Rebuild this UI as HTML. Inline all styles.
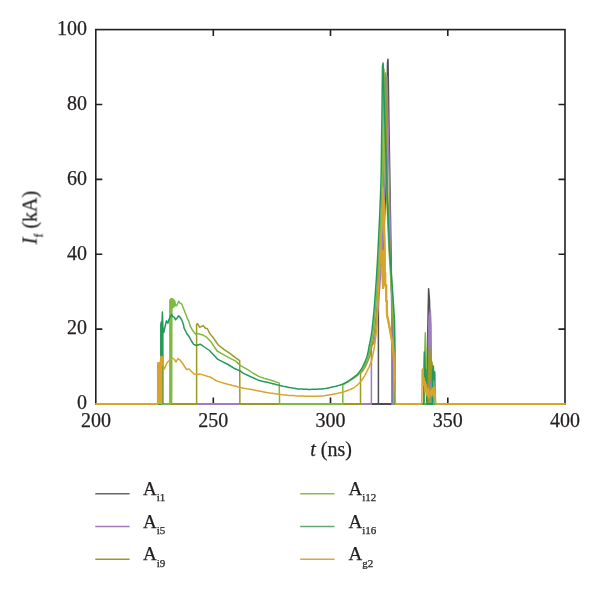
<!DOCTYPE html>
<html><head><meta charset="utf-8">
<style>
html,body{margin:0;padding:0;background:#fff;width:600px;height:591px;overflow:hidden}
svg{display:block}
text{font-family:"Liberation Serif",serif;fill:#231f20;stroke:#231f20;stroke-width:0.25px}
.t{opacity:0.999}
</style></head>
<body>
<svg width="600" height="591" viewBox="0 0 600 591">
<!-- frame -->
<g fill="none" stroke="#231f20" stroke-width="1.6">
<rect x="95.8" y="29.6" width="469.2" height="374.4"/>
<path d="M213.3 404v-6.5M330.5 404v-6.5M447.8 404v-6.5M213.3 29.6v6.5M330.5 29.6v6.5M447.8 29.6v6.5M95.8 329.1h6.5M95.8 254.2h6.5M95.8 179.4h6.5M95.8 104.5h6.5M565 329.1h-6.5M565 254.2h-6.5M565 179.4h-6.5M565 104.5h-6.5"/>
</g>
<g class="t">
<!-- y tick labels -->
<g font-size="20" text-anchor="end">
<text x="87" y="409.3">0</text>
<text x="87" y="334.4">20</text>
<text x="87" y="259.5">40</text>
<text x="87" y="184.6">60</text>
<text x="87" y="109.7">80</text>
<text x="87" y="34.8">100</text>
</g>
<!-- x tick labels -->
<g font-size="20" text-anchor="middle">
<text x="96" y="426.5">200</text>
<text x="213.3" y="426.5">250</text>
<text x="330.5" y="426.5">300</text>
<text x="447.8" y="426.5">350</text>
<text x="565" y="426.5">400</text>
</g>
<text x="331" y="456" font-size="20" text-anchor="middle"><tspan font-style="italic">t</tspan> (ns)</text>
<text transform="translate(36.5 217.5) rotate(-90)" font-size="20" text-anchor="middle"><tspan font-style="italic">I</tspan><tspan font-size="11.5" dy="6">f</tspan><tspan dy="-6"> (kA)</tspan></text>

</g>
<!-- DATA -->
<g id="data" fill="none" stroke-width="1.6" stroke-linejoin="round">
<path d="M96.0 404.0 L378.4 404.0 L378.4 268.0 L382.3 263.9 L382.6 258.0 L382.9 252.2 L383.2 246.2 L383.5 240.0 L383.9 232.1 L384.3 223.8 L384.7 215.3 L385.0 207.2 L385.3 200.0 L385.5 195.7 L385.6 191.8 L385.8 188.2 L385.9 184.3 L386.0 180.0 L386.2 172.9 L386.3 165.0 L386.4 156.7 L386.5 148.2 L386.6 140.0 L386.7 130.7 L386.9 120.2 L387.0 110.2 L387.1 102.9 L387.1 100.0 L387.5 63.0 L388.0 59.2 L389.2 140.0 L390.2 200.0 L391.0 250.0 L391.8 300.0 L392.2 330.0 L392.2 404.0 L427.5 404.0 L427.8 330.0 L428.6 288.8 L429.5 300.0 L430.2 340.0 L430.5 404.0 L565.0 404.0" stroke="#4f4f51" stroke-width="1.5"/><rect x="95.6" y="403" width="283.2" height="2" fill="#4f4f51"/><rect x="391.8" y="403" width="36.1" height="2" fill="#4f4f51"/><rect x="430.1" y="403" width="135.3" height="2" fill="#4f4f51"/>
<path d="M96.0 404.0 L371.4 404.0 L371.4 346.0 L373.6 343.5 L373.9 341.9 L374.3 340.2 L374.6 338.5 L374.9 336.9 L375.1 335.3 L375.4 333.7 L375.6 332.0 L375.9 330.0 L376.4 325.9 L376.9 321.2 L377.4 315.9 L377.9 310.5 L378.4 305.0 L378.9 298.3 L379.4 291.3 L379.9 284.1 L380.4 276.9 L380.8 270.0 L381.2 263.9 L381.5 258.0 L381.8 252.2 L382.1 246.2 L382.4 240.0 L382.8 232.1 L383.2 223.8 L383.6 215.3 L383.9 207.2 L384.2 200.0 L384.4 195.7 L384.5 191.8 L384.7 188.2 L384.8 184.3 L384.9 180.0 L385.1 172.9 L385.2 165.0 L385.3 156.7 L385.4 148.2 L385.5 140.0 L385.6 130.7 L385.8 120.2 L385.9 110.2 L386.0 102.9 L386.0 100.0 L386.2 80.0 L387.0 77.0 L388.3 140.0 L389.8 200.0 L390.5 250.0 L391.5 300.0 L392.0 330.0 L392.0 404.0 L428.2 404.0 L428.4 340.0 L429.3 318.0 L430.3 309.5 L431.0 325.0 L431.3 360.0 L431.5 404.0 L565.0 404.0" stroke="#a07cc0" stroke-width="1.5"/><rect x="95.6" y="403" width="276.2" height="2" fill="#a07cc0"/><rect x="391.6" y="403" width="37.0" height="2" fill="#a07cc0"/><rect x="431.1" y="403" width="134.3" height="2" fill="#a07cc0"/>
<path d="M428.3 404.0 L428.4 340.0 L429.3 318.0 L430.3 310.0 L431.0 325.0 L431.3 360.0 L431.5 404.0Z" fill="#a07cc0" stroke="none"/>
<path d="M96.0 404.0 L196.6 404.0 L196.6 324.5 L197.6 323.5 L199.7 327.3 L203.1 325.6 L205.7 328.5 L207.3 328.5 L209.9 333.6 L213.7 338.3 L218.3 345.0 L223.8 349.3 L230.6 353.9 L235.0 357.3 L239.7 360.7 L239.9 404.0 L360.5 404.0 L360.5 373.3 L362.4 371.3 L363.2 370.1 L364.0 368.9 L364.8 367.6 L365.5 366.3 L366.2 364.9 L366.8 363.5 L367.4 362.1 L368.0 360.8 L368.5 359.5 L369.0 358.2 L369.5 356.8 L369.9 355.4 L370.3 353.8 L370.7 352.1 L371.0 350.4 L371.3 348.6 L371.6 346.9 L371.9 345.2 L372.3 343.5 L372.6 341.9 L373.0 340.2 L373.3 338.5 L373.6 336.9 L373.8 335.3 L374.1 333.7 L374.3 332.0 L374.6 330.0 L375.1 325.9 L375.6 321.2 L376.1 315.9 L376.6 310.5 L377.1 305.0 L377.6 298.3 L378.1 291.3 L378.6 284.1 L379.1 276.9 L379.5 270.0 L379.9 263.9 L380.2 258.0 L380.5 252.2 L380.8 246.2 L381.1 240.0 L381.5 232.1 L381.9 223.8 L382.3 215.3 L382.6 207.2 L382.9 200.0 L383.1 195.7 L383.2 191.8 L383.4 188.2 L383.5 184.3 L383.6 180.0 L383.8 172.9 L383.9 165.0 L384.0 156.7 L384.1 148.2 L384.2 140.0 L384.3 130.7 L384.5 120.2 L384.6 110.2 L384.7 102.9 L384.7 100.0 L384.7 78.0 L385.5 73.0 L386.8 140.0 L388.0 200.0 L389.8 250.0 L392.0 300.0 L393.5 330.0 L394.0 350.0 L394.0 404.0 L428.3 404.0 L428.6 365.0 L429.5 346.2 L430.4 360.0 L430.6 380.0 L431.0 370.0 L432.0 362.0 L433.0 375.0 L433.3 404.0 L565.0 404.0" stroke="#9a9a24" stroke-width="1.5"/><rect x="95.6" y="403" width="101.4" height="2" fill="#9a9a24"/><rect x="239.5" y="403" width="121.4" height="2" fill="#9a9a24"/><rect x="393.6" y="403" width="35.1" height="2" fill="#9a9a24"/><rect x="432.9" y="403" width="132.5" height="2" fill="#9a9a24"/>
<path d="M96.0 404.0 L169.9 404.0 L169.9 300.0 L170.0 304.0 L170.8 299.0 L171.8 298.6 L172.6 304.0 L172.6 299.0 L174.6 300.8 L175.3 304.6 L176.7 305.6 L178.7 301.2 L180.0 303.2 L181.7 303.9 L183.4 308.3 L186.1 315.0 L187.5 319.0 L188.8 321.1 L190.2 326.1 L192.9 330.8 L195.9 334.5 L197.6 333.6 L202.7 334.9 L206.9 337.4 L211.2 342.1 L217.1 351.0 L223.8 354.8 L229.8 358.1 L235.7 361.1 L240.1 365.4 L247.7 369.6 L252.8 373.0 L258.7 376.4 L264.6 378.5 L271.4 380.2 L279.2 383.1 L279.6 404.0 L342.8 404.0 L342.8 384.6 L345.8 383.2 L347.3 382.4 L348.8 381.5 L350.3 380.5 L351.7 379.6 L353.1 378.7 L354.5 377.7 L355.9 376.7 L357.2 375.7 L358.4 374.6 L359.4 373.5 L360.3 372.4 L361.1 371.3 L361.9 370.1 L362.7 368.9 L363.5 367.6 L364.2 366.3 L364.9 364.9 L365.5 363.5 L366.1 362.1 L366.7 360.8 L367.2 359.5 L367.7 358.2 L368.2 356.8 L368.6 355.4 L369.0 353.8 L369.4 352.1 L369.7 350.4 L370.0 348.6 L370.3 346.9 L370.6 345.2 L371.0 343.5 L371.3 341.9 L371.7 340.2 L372.0 338.5 L372.3 336.9 L372.5 335.3 L372.8 333.7 L373.0 332.0 L373.3 330.0 L373.8 325.9 L374.3 321.2 L374.8 315.9 L375.3 310.5 L375.8 305.0 L376.3 298.3 L376.8 291.3 L377.3 284.1 L377.8 276.9 L378.2 270.0 L378.6 263.9 L378.9 258.0 L379.2 252.2 L379.5 246.2 L379.8 240.0 L380.2 232.1 L380.6 223.8 L381.0 215.3 L381.3 207.2 L381.6 200.0 L381.8 195.7 L381.9 191.8 L382.1 188.2 L382.2 184.3 L382.3 180.0 L382.5 172.9 L382.6 165.0 L382.7 156.7 L382.8 148.2 L382.9 140.0 L383.0 130.7 L383.2 120.2 L383.3 110.2 L383.4 102.9 L383.4 100.0 L383.4 72.0 L384.0 69.0 L385.0 140.0 L386.8 200.0 L389.0 250.0 L391.5 290.0 L393.5 320.0 L394.3 350.0 L394.3 404.0 L424.4 404.0 L424.6 360.0 L425.3 332.8 L426.0 350.0 L426.4 380.0 L427.0 392.0 L427.3 404.0 L431.0 404.0 L431.5 385.0 L432.0 404.0 L565.0 404.0" stroke="#80b941" stroke-width="1.5"/><rect x="95.6" y="403" width="74.7" height="2" fill="#80b941"/><rect x="279.2" y="403" width="64.0" height="2" fill="#80b941"/><rect x="393.9" y="403" width="30.9" height="2" fill="#80b941"/><rect x="426.9" y="403" width="4.5" height="2" fill="#80b941"/><rect x="431.6" y="403" width="133.8" height="2" fill="#80b941"/>
<path d="M169.9 404.0 L169.9 302.0 L170.5 298.6 L171.8 298.4 L173.5 299.2 L175.0 301.0 L176.2 305.0 L175.5 306.5 L174.0 307.5 L172.6 309.0 L172.4 404.0Z" fill="#80b941" stroke="none"/>
<path d="M96.0 404.0 L160.8 404.0 L160.8 325.0 L161.2 322.0 L161.9 325.0 L162.4 312.0 L162.9 328.0 L163.7 332.5 L165.2 326.0 L166.5 320.8 L167.9 323.2 L168.9 319.8 L170.2 316.7 L171.6 314.7 L172.9 316.7 L174.3 317.1 L175.6 319.8 L177.3 317.7 L178.7 315.7 L180.4 317.7 L181.7 319.8 L183.4 324.5 L184.1 328.1 L186.8 333.5 L188.8 336.2 L191.5 341.0 L193.6 344.4 L196.3 345.5 L200.2 344.2 L204.4 347.0 L209.5 350.5 L212.8 353.9 L217.9 359.4 L223.8 362.4 L228.1 364.5 L235.0 368.8 L240.1 370.9 L243.5 373.4 L251.9 377.2 L252.4 377.4 L253.7 378.0 L255.3 378.8 L257.1 379.6 L258.7 380.2 L259.9 380.6 L261.1 380.9 L262.2 381.2 L263.4 381.4 L264.6 381.7 L265.9 382.0 L267.3 382.3 L268.6 382.6 L270.0 383.0 L271.4 383.3 L272.9 383.7 L274.5 384.1 L276.0 384.5 L277.5 384.9 L279.0 385.3 L280.3 385.6 L281.5 385.9 L282.7 386.1 L283.8 386.4 L285.0 386.6 L286.0 386.8 L287.0 387.0 L288.0 387.2 L289.0 387.4 L290.0 387.6 L291.3 387.8 L292.6 388.1 L294.0 388.3 L295.5 388.5 L296.9 388.7 L298.5 388.9 L300.2 389.0 L302.0 389.1 L303.7 389.2 L305.4 389.3 L307.1 389.3 L308.8 389.4 L310.4 389.4 L312.1 389.3 L313.8 389.3 L315.5 389.3 L317.2 389.2 L318.9 389.1 L320.6 389.0 L322.3 388.9 L323.9 388.7 L325.5 388.5 L327.0 388.2 L328.5 387.9 L330.0 387.6 L331.2 387.3 L332.4 387.1 L333.6 386.8 L334.8 386.5 L336.0 386.2 L337.4 385.8 L338.8 385.4 L340.2 385.0 L341.6 384.5 L343.0 383.9 L344.5 383.2 L346.0 382.4 L347.5 381.5 L349.0 380.5 L350.4 379.6 L351.8 378.7 L353.2 377.7 L354.6 376.7 L355.9 375.7 L357.1 374.6 L358.1 373.5 L359.0 372.4 L359.8 371.3 L360.6 370.1 L361.4 368.9 L362.2 367.6 L362.9 366.3 L363.6 364.9 L364.2 363.5 L364.8 362.1 L365.4 360.8 L365.9 359.5 L366.4 358.2 L366.9 356.8 L367.3 355.4 L367.7 353.8 L368.1 352.1 L368.4 350.4 L368.7 348.6 L369.0 346.9 L369.3 345.2 L369.7 343.5 L370.0 341.9 L370.4 340.2 L370.7 338.5 L371.0 336.9 L371.2 335.3 L371.5 333.7 L371.7 332.0 L372.0 330.0 L372.5 325.9 L373.0 321.2 L373.5 315.9 L374.0 310.5 L374.5 305.0 L375.0 298.3 L375.5 291.3 L376.0 284.1 L376.5 276.9 L376.9 270.0 L377.3 263.9 L377.6 258.0 L377.9 252.2 L378.2 246.2 L378.5 240.0 L378.9 232.1 L379.3 223.8 L379.7 215.3 L380.0 207.2 L380.3 200.0 L380.5 195.7 L380.6 191.8 L380.8 188.2 L380.9 184.3 L381.0 180.0 L381.2 172.9 L381.3 165.0 L381.4 156.7 L381.5 148.2 L381.6 140.0 L381.7 130.7 L381.9 120.2 L382.0 110.2 L382.1 102.9 L382.1 100.0 L382.5 66.0 L383.1 63.0 L383.8 90.0 L385.5 140.0 L387.3 200.0 L389.5 250.0 L392.5 290.0 L394.5 320.0 L395.0 350.0 L395.0 404.0 L423.8 404.0 L423.9 375.0 L424.3 352.0 L424.9 362.0 L425.3 380.0 L426.0 370.0 L426.6 395.0 L427.0 404.0 L432.3 404.0 L432.6 372.0 L433.3 366.0 L434.2 380.0 L434.8 372.0 L435.2 404.0 L565.0 404.0" stroke="#23995b" stroke-width="1.5"/><rect x="95.6" y="403" width="65.6" height="2" fill="#23995b"/><rect x="394.6" y="403" width="29.6" height="2" fill="#23995b"/><rect x="426.6" y="403" width="6.1" height="2" fill="#23995b"/><rect x="434.8" y="403" width="130.6" height="2" fill="#23995b"/>
<path d="M160.6 404.0 L160.6 325.0 L161.2 323.0 L162.4 324.0 L163.6 329.0 L163.6 404.0Z" fill="#23995b" stroke="none"/>
<path d="M96.0 404.0 L157.7 404.0 L157.7 363.0 L160.3 362.5 L161.0 356.2 L162.2 357.0 L162.5 363.7 L164.5 369.0 L166.0 365.0 L167.5 362.0 L170.0 360.0 L172.5 358.0 L174.5 359.5 L176.0 362.0 L178.0 358.5 L180.0 360.0 L183.0 364.0 L186.5 369.5 L189.0 369.0 L194.0 374.0 L197.0 374.5 L200.0 374.0 L200.4 374.1 L201.3 374.4 L202.5 374.7 L203.8 375.1 L205.0 375.5 L206.2 375.9 L207.4 376.2 L208.6 376.6 L209.8 377.0 L211.0 377.5 L212.1 378.1 L213.1 378.7 L214.1 379.3 L215.0 380.0 L216.0 380.5 L216.8 380.9 L217.6 381.2 L218.3 381.4 L219.1 381.7 L220.0 382.0 L221.3 382.4 L222.6 382.8 L224.1 383.2 L225.5 383.6 L227.0 384.0 L228.6 384.4 L230.1 384.8 L231.8 385.3 L233.4 385.7 L235.0 386.1 L236.7 386.5 L238.4 387.0 L240.1 387.4 L241.8 387.8 L243.5 388.2 L245.2 388.5 L246.8 388.8 L248.5 389.0 L250.2 389.3 L251.9 389.6 L253.9 390.0 L255.9 390.4 L258.0 390.8 L260.0 391.2 L262.0 391.6 L263.6 391.9 L265.2 392.2 L266.8 392.5 L268.4 392.7 L270.0 393.0 L271.9 393.3 L273.9 393.6 L275.9 393.9 L277.9 394.1 L280.0 394.4 L282.4 394.7 L285.0 394.9 L287.5 395.2 L290.1 395.4 L292.7 395.6 L295.2 395.8 L297.8 395.9 L300.3 396.0 L302.9 396.1 L305.4 396.2 L308.0 396.3 L310.7 396.3 L313.3 396.3 L315.8 396.3 L318.1 396.2 L319.6 396.1 L321.1 396.0 L322.4 395.9 L323.7 395.8 L325.0 395.6 L326.0 395.4 L327.0 395.3 L327.9 395.1 L328.9 394.9 L330.0 394.7 L331.8 394.4 L333.8 394.1 L335.8 393.7 L338.0 393.3 L340.0 392.8 L342.1 392.3 L344.1 391.7 L346.2 391.0 L348.2 390.3 L350.0 389.6 L351.3 389.0 L352.6 388.4 L353.7 387.8 L354.9 387.0 L356.0 386.2 L357.3 385.1 L358.6 383.8 L359.9 382.4 L361.1 381.0 L362.2 379.5 L363.3 377.8 L364.4 376.1 L365.4 374.3 L366.4 372.4 L367.3 370.6 L368.1 368.9 L369.0 367.3 L369.7 365.6 L370.4 363.9 L371.1 362.1 L371.7 360.0 L372.3 357.8 L372.8 355.5 L373.2 353.3 L373.6 351.2 L373.9 349.5 L374.2 347.8 L374.5 346.2 L374.7 344.5 L375.0 342.7 L375.3 340.4 L375.6 338.1 L375.9 335.6 L376.2 332.9 L376.5 330.0 L376.9 324.8 L377.2 318.9 L377.4 312.6 L377.7 306.2 L378.0 300.0 L378.3 294.0 L378.6 288.0 L378.9 282.0 L379.2 276.0 L379.5 270.0 L379.8 264.0 L380.1 258.0 L380.4 252.0 L380.7 246.0 L381.0 240.0 L381.3 233.9 L381.5 227.8 L381.8 221.7 L382.1 215.7 L382.3 210.0 L382.5 204.7 L382.8 198.8 L383.0 193.5 L383.1 189.5 L383.2 188.0 L383.6 200.0 L384.2 230.0 L384.7 250.0 L384.7 273.0 L385.2 273.0 L385.2 285.0 L386.2 285.0 L386.2 301.0 L386.8 301.0 L387.0 315.0 L388.5 322.0 L390.0 330.0 L391.5 338.0 L392.8 345.0 L394.0 360.0 L394.8 380.0 L395.5 404.0 L421.8 404.0 L422.2 370.0 L423.0 368.5 L423.6 385.0 L424.2 378.0 L425.0 392.0 L426.0 384.0 L427.0 396.0 L428.0 388.0 L429.0 398.0 L430.5 390.0 L431.5 396.0 L432.5 388.0 L433.5 397.0 L434.5 387.0 L435.3 395.0 L435.8 404.0 L565.0 404.0" stroke="#d9a42c" stroke-width="1.5"/><rect x="95.6" y="403" width="62.5" height="2" fill="#d9a42c"/><rect x="395.1" y="403" width="27.1" height="2" fill="#d9a42c"/><rect x="435.4" y="403" width="130.0" height="2" fill="#d9a42c"/>
<path d="M157.7 404.0 L157.7 363.0 L160.3 362.5 L161.0 356.2 L162.2 357.0 L162.5 363.7 L162.5 404.0Z" fill="#d9a42c" stroke="none"/>
<path d="M383.6 200.0 L384.2 230.0 L384.7 250.0 L384.7 273.0 L385.2 273.0 L385.2 285.0 L386.2 285.0 L386.2 301.0 L386.8 301.0 L387.0 315.0 L388.5 322.0 L390.0 330.0 L391.5 338.0 L392.8 345.0 L394.0 360.0 L394.8 380.0" stroke="#d9a42c" stroke-width="2.3"/>
<path d="M381.0 250.0 L384.5 250.0 L384.5 273.0 L385.0 273.0 L385.0 285.0 L384.0 289.0 L382.0 289.0 L381.3 275.0Z" fill="#d9a42c" stroke="none"/>
</g>

<!-- legend -->
<g stroke-width="1.5">
<line x1="95.3" y1="493.8" x2="129.6" y2="493.8" stroke="#666"/>
<line x1="95.3" y1="526.5" x2="129.6" y2="526.5" stroke="#9e7bb5"/>
<line x1="95.3" y1="559.2" x2="129.6" y2="559.2" stroke="#999a2e"/>
<line x1="300.2" y1="493.8" x2="334.5" y2="493.8" stroke="#8fba50"/>
<line x1="300.2" y1="526.5" x2="334.5" y2="526.5" stroke="#62a978"/>
<line x1="300.2" y1="559.2" x2="334.5" y2="559.2" stroke="#d8a840"/>
</g>
<g font-size="19" class="t">
<text x="143" y="495">A<tspan font-size="11" dy="6.3">i1</tspan></text>
<text x="143" y="527.7">A<tspan font-size="11" dy="6.3">i5</tspan></text>
<text x="143" y="560.4">A<tspan font-size="11" dy="6.3">i9</tspan></text>
<text x="348.4" y="495">A<tspan font-size="11" dy="6.3">i12</tspan></text>
<text x="348.4" y="527.7">A<tspan font-size="11" dy="6.3">i16</tspan></text>
<text x="348.4" y="560.4">A<tspan font-size="11" dy="6.3">g2</tspan></text>
</g>
</svg>
</body></html>
